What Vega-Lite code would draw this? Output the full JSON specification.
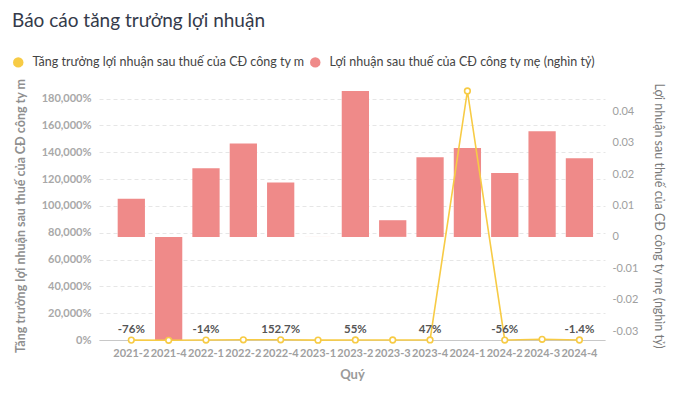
{
  "$schema": "https://vega.github.io/schema/vega-lite/v6.json",
  "width": 506,
  "height": 249,
  "autosize": {"type": "none"},
  "padding": {"left": 99, "top": 91, "right": 75, "bottom": 55},
  "background": "white",
  "config": {"font": "Lato", "view": {"stroke": null}},
  "title": {
    "text": "Báo cáo tăng trưởng lợi nhuận",
    "anchor": "start",
    "frame": "group",
    "fontSize": 19,
    "fontWeight": "normal",
    "color": "#343a4a",
    "dx": -87,
    "offset": 25
  },
  "data": {
    "values": [
      {"quy": "2021-2", "loi_nhuan": 0.0121, "tang_truong": -76, "nhan": "-76%"},
      {"quy": "2021-4", "loi_nhuan": -0.0328, "tang_truong": -200, "nhan": ""},
      {"quy": "2022-1", "loi_nhuan": 0.0218, "tang_truong": -14, "nhan": "-14%"},
      {"quy": "2022-2", "loi_nhuan": 0.0297, "tang_truong": 145, "nhan": ""},
      {"quy": "2022-4", "loi_nhuan": 0.0173, "tang_truong": 152.7, "nhan": "152.7%"},
      {"quy": "2023-1", "loi_nhuan": 0.0000152, "tang_truong": -99.9, "nhan": ""},
      {"quy": "2023-2", "loi_nhuan": 0.0464, "tang_truong": 55, "nhan": "55%"},
      {"quy": "2023-3", "loi_nhuan": 0.0053, "tang_truong": 0, "nhan": ""},
      {"quy": "2023-4", "loi_nhuan": 0.0253, "tang_truong": 47, "nhan": "47%"},
      {"quy": "2024-1", "loi_nhuan": 0.0283, "tang_truong": 185600, "nhan": ""},
      {"quy": "2024-2", "loi_nhuan": 0.0203, "tang_truong": -56, "nhan": "-56%"},
      {"quy": "2024-3", "loi_nhuan": 0.0336, "tang_truong": 534, "nhan": ""},
      {"quy": "2024-4", "loi_nhuan": 0.025, "tang_truong": -1.4, "nhan": "-1.4%"}
    ]
  },
  "encoding": {
    "x": {
      "field": "quy",
      "type": "ordinal",
      "sort": null,
      "scale": {"paddingInner": 0.27, "paddingOuter": 0.41, "align": 0.61},
      "axis": {
        "title": "Quý",
        "titleFontSize": 13,
        "titleFontWeight": "bold",
        "titleColor": "#9a9a9a",
        "titlePadding": 10,
        "labelAngle": 0,
        "labelFontSize": 11,
        "labelFontWeight": "bold",
        "labelColor": "#a0a0a0",
        "labelPadding": 7,
        "labelOverlap": false,
        "ticks": false,
        "domainColor": "#c8c8c8",
        "grid": false
      }
    }
  },
  "layer": [
    {
      "mark": {"type": "bar"},
      "encoding": {
        "y": {
          "field": "loi_nhuan",
          "type": "quantitative",
          "scale": {"domain": [-0.0328, 0.0464], "nice": false, "zero": false},
          "axis": {
            "orient": "right",
            "title": "Lợi nhuận sau thuế của CĐ công ty mẹ (nghìn tỷ)",
            "titleAngle": 90,
            "titleFontSize": 12.5,
            "titleFontWeight": "normal",
            "titleColor": "#7a7a7a",
            "titlePadding": 14,
            "values": [-0.03, -0.02, -0.01, 0, 0.01, 0.02, 0.03, 0.04],
            "labelExpr": "datum.value < 0 ? '-' + format(-datum.value, '.2~f') : format(datum.value, '.2~f')",
            "labelFontSize": 11,
            "labelColor": "#a0a0a0",
            "labelPadding": 7,
            "ticks": false,
            "domain": false,
            "grid": false
          }
        },
        "color": {
          "datum": "Lợi nhuận sau thuế của CĐ công ty mẹ (nghìn tỷ)",
          "type": "nominal",
          "scale": {
            "domain": ["Tăng trưởng lợi nhuận sau thuế của CĐ công ty m", "Lợi nhuận sau thuế của CĐ công ty mẹ (nghìn tỷ)"],
            "range": ["#f7cb45", "#ef8a89"]
          },
          "legend": {
            "title": null,
            "orient": "none",
            "legendX": -87,
            "legendY": -35,
            "direction": "horizontal",
            "symbolType": "circle",
            "symbolSize": 110,
            "symbolStrokeWidth": 0,
            "labelFontSize": 12.5,
            "labelColor": "#444444",
            "labelOffset": 8,
            "columnPadding": 4,
            "labelLimit": 400
          }
        }
      }
    },
    {
      "encoding": {
        "y": {
          "field": "tang_truong",
          "type": "quantitative",
          "scale": {"domain": [0, 185600], "nice": false, "zero": false},
          "axis": {
            "orient": "left",
            "title": "Tăng trưởng lợi nhuận sau thuế của CĐ công ty m",
            "titleFontSize": 12.5,
            "titleFontWeight": "bold",
            "titleColor": "#8f8f8f",
            "titlePadding": 14,
            "values": [0, 20000, 40000, 60000, 80000, 100000, 120000, 140000, 160000, 180000],
            "labelExpr": "format(datum.value, ',') + '%'",
            "labelFontSize": 11,
            "labelFontWeight": "bold",
            "labelColor": "#a8a8a8",
            "labelPadding": 8,
            "ticks": false,
            "domain": false,
            "grid": true,
            "gridColor": "#e6e6e6",
            "gridDash": [4, 3]
          }
        }
      },
      "layer": [
        {"mark": {"type": "line", "color": "#f7cb45", "strokeWidth": 1.6}},
        {"mark": {"type": "point", "filled": true, "fill": "white", "stroke": "#f7cb45", "strokeWidth": 1.6, "size": 32, "opacity": 1}},
        {
          "mark": {"type": "text", "dy": -7, "baseline": "alphabetic", "fontSize": 11.5, "fontWeight": "bold", "color": "#555555"},
          "encoding": {"text": {"field": "nhan", "type": "nominal"}}
        }
      ]
    }
  ],
  "resolve": {"scale": {"y": "independent"}}
}
